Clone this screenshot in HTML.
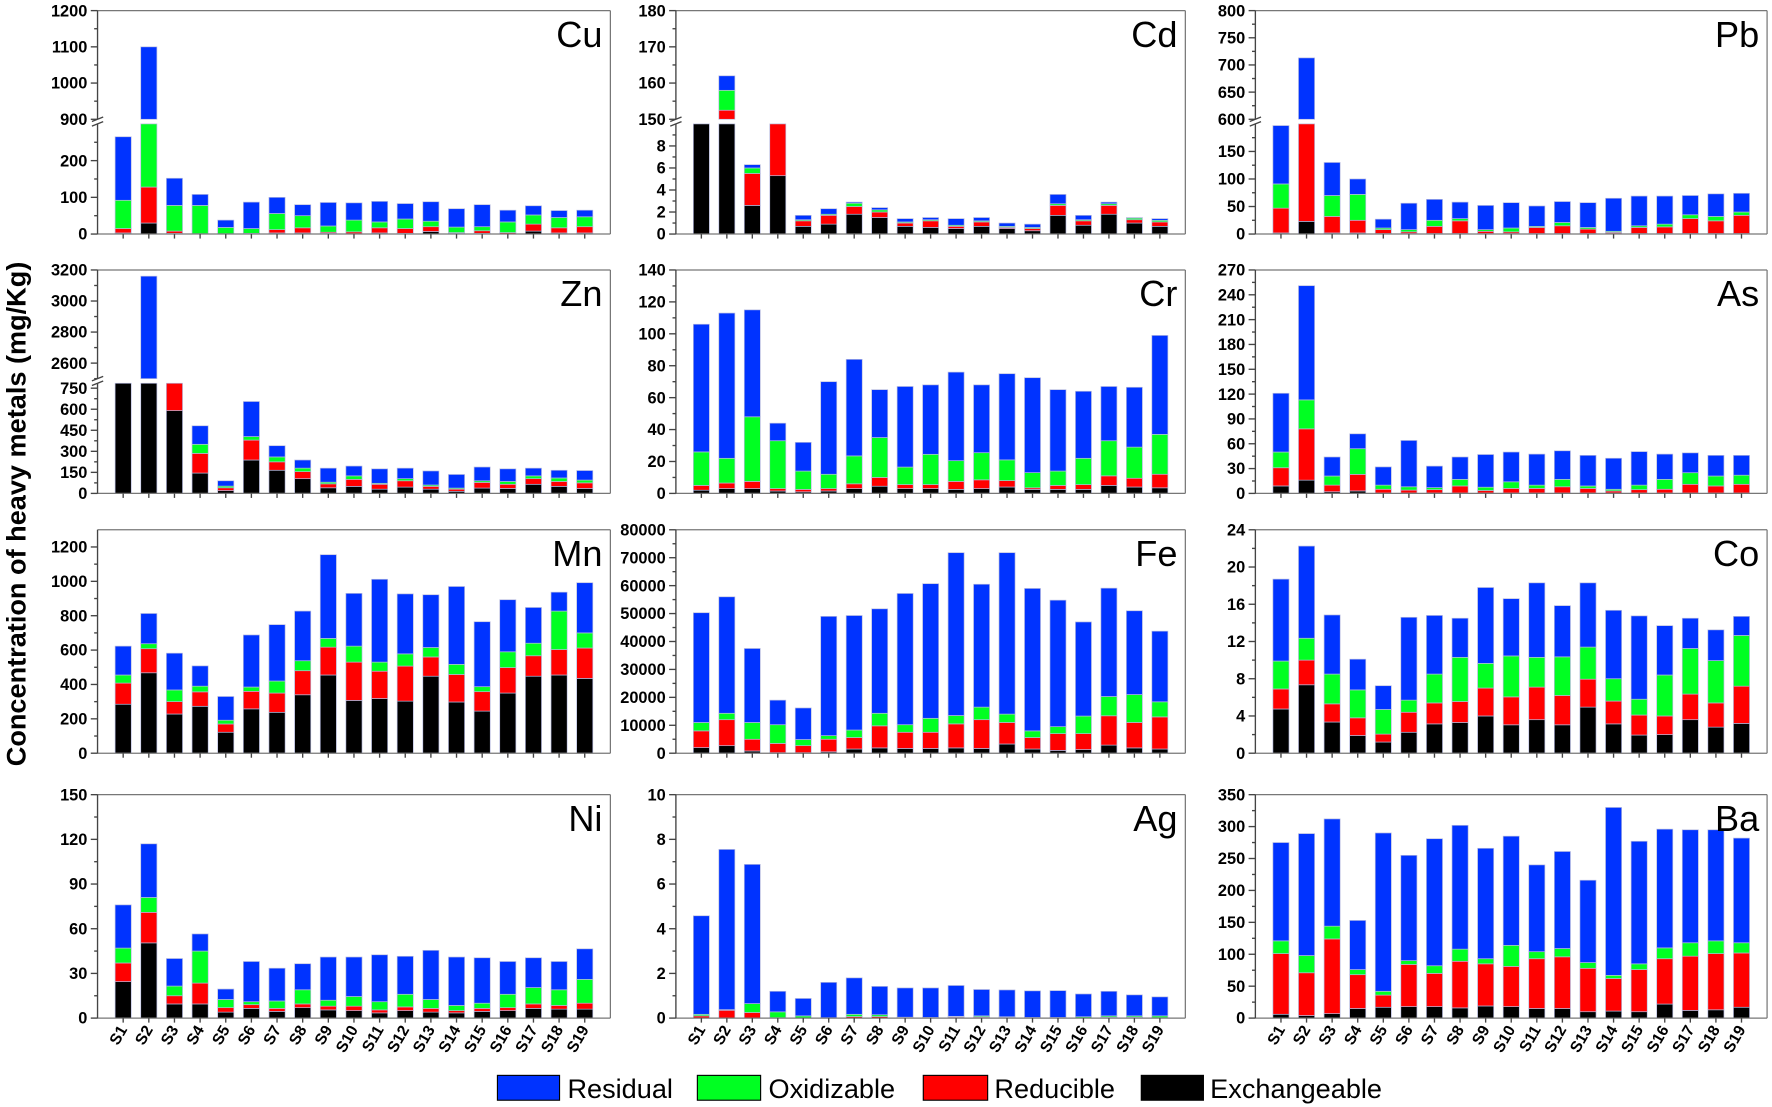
<!DOCTYPE html>
<html><head><meta charset="utf-8">
<style>
html,body{margin:0;padding:0;background:#fff;}
svg{display:block;font-family:"Liberation Sans",Arial,sans-serif;}
</style></head>
<body>
<svg id="chart" xmlns="http://www.w3.org/2000/svg" width="1772" height="1107" viewBox="0 0 1568 980">
<text transform="translate(22,455) rotate(-90)" text-anchor="middle" font-size="24" font-weight="bold">Concentration of heavy metals (mg/Kg)</text>
<g>
 <g><rect x="440" y="952" width="55" height="22" fill="#0033ff" stroke="#000" stroke-width="1"/><text x="502" y="972" font-size="24">Residual</text></g>
 <g><rect x="617" y="952" width="56" height="22" fill="#00ff22" stroke="#000" stroke-width="1"/><text x="680" y="972" font-size="24">Oxidizable</text></g>
 <g><rect x="817" y="952" width="57" height="22" fill="#ff0000" stroke="#000" stroke-width="1"/><text x="880" y="972" font-size="24">Reducible</text></g>
 <g><rect x="1010" y="952" width="55" height="22" fill="#000" stroke="#000" stroke-width="1"/><text x="1071" y="972" font-size="24">Exchangeable</text></g>
</g>
<g id="panels"></g>
</svg>
<script>
const categories=["S1","S2","S3","S4","S5","S6","S7","S8","S9","S10","S11","S12","S13","S14","S15","S16","S17","S18","S19"];

const cuExchangeable=[3,30,2,0,0,0,3,3,2,1,3,2,7,2,2,1,8,3,3];
const cuReducible=[12,98,6,1,1,2,9,14,3,5,14,13,13,2,7,3,19,14,17];
const cuOxidizable=[77,600,70,77,17,13,44,33,17,32,16,26,15,15,11,29,25,28,27];
const cuResidual=[173,372,74,30,20,72,44,30,64,47,56,42,53,50,60,32,25,19,18];

const cdExchangeable=[100,150,2.6,5.3,0.7,0.9,1.8,1.5,0.7,0.6,0.5,0.7,0.5,0.3,1.7,0.8,1.8,1.0,0.7];
const cdReducible=[0,2.5,2.9,94.7,0.5,0.8,0.7,0.5,0.3,0.6,0.2,0.4,0.1,0.2,0.9,0.4,0.8,0.3,0.4];
const cdOxidizable=[0,5.5,0.5,0,0.1,0.1,0.3,0.2,0.1,0.1,0.1,0.1,0.1,0.1,0.15,0.1,0.15,0.15,0.15];
const cdResidual=[0,4,0.3,0,0.4,0.5,0.1,0.2,0.3,0.2,0.6,0.3,0.3,0.3,0.85,0.4,0.15,0.05,0.15];

const pbExchangeable=[2,23,2,2,1,1,1,1,1,1,1,1,1,1,1,1,1,1,1];
const pbReducible=[45,500,30,23,7,3,13,23,4,3,11,14,8,2,11,12,27,23,33];
const pbOxidizable=[44,0,38,47,3,4,11,4,3,7,2,6,3,2,3,5,7,8,6];
const pbResidual=[106,190,60,28,16,48,38,30,44,46,37,38,45,60,54,51,35,41,34];

const znExchangeable=[1000,1000,590,145,20,238,165,105,40,50,30,45,30,15,38,35,65,50,35];
const znReducible=[0,0,300,140,20,142,60,50,28,50,35,45,20,15,40,30,40,35,40];
const znOxidizable=[0,0,0,65,12,25,35,25,12,25,7,15,10,8,12,20,20,25,20];
const znResidual=[0,2160,0,132,38,250,80,58,100,70,103,75,100,97,98,90,55,55,68];

const crExchangeable=[2,3,3,1.5,1,1.5,3,4.5,3,3,2.5,3,4,2.5,2.5,2.5,5,4,3.5];
const crReducible=[3,3.5,4.5,1.5,1.5,1.5,3,5.5,2.5,2.5,5,5.5,4,1,2.5,3,6,5.5,8.5];
const crOxidizable=[21,15.5,40.5,30,11.5,9,17.5,25,11,19,13,17,13,9.5,9,16.5,22,19.5,25];
const crResidual=[80,91,67,11,18,58,60.5,30,50.5,43.5,55.5,42.5,54,59.5,51,42,34,37.5,62];

const asExchangeable=[9,16,2,3,0.5,0.5,0.5,0.5,0.5,0.5,0.5,0.5,0.5,0.5,0.5,0.5,0.5,0.5,0.5];
const asReducible=[22,62,8,20,4.5,3.5,4,8.5,3,5.5,5.5,7.5,5.5,2.5,4,4.5,10.5,8.5,10.5];
const asOxidizable=[19,35,11,31,5,4,2.5,8,4,8,4,9,3,2,5.5,12,14,12,11];
const asResidual=[71,138,23,18,22,56,26,27,39.5,36,37.5,34.5,37,37.5,40.5,30.5,24,25,24];

const mnExchangeable=[285,468,228,273,122,258,238,340,455,307,318,303,448,298,245,350,448,455,435];
const mnReducible=[123,140,72,84,48,102,112,140,162,223,159,204,112,160,113,148,119,148,177];
const mnOxidizable=[47,29,68,33,22,25,70,58,51,93,53,71,55,59,29,92,73,224,88];
const mnResidual=[168,176,214,118,138,303,328,289,487,307,482,349,307,453,378,303,208,110,292];

const feExchangeable=[2000,2700,800,200,200,500,1500,1900,1700,1700,1900,1700,3300,1500,1000,1300,2900,1900,1500];
const feReducible=[6000,9300,4200,3300,2500,4500,4100,7900,5800,5800,8600,10300,7700,4100,6000,5700,10500,9100,11500];
const feOxidizable=[3000,2300,6000,6700,2200,1300,2700,4500,2700,5000,3000,4500,3000,2400,2500,6300,6900,10000,5400];
const feResidual=[39300,41700,26500,8800,11300,42700,41000,37400,47000,48200,58300,44000,57800,51000,45300,33700,38800,30000,25300];

const coExchangeable=[4.75,7.35,3.35,1.9,1.2,2.25,3.15,3.3,4.0,3.05,3.6,3.05,4.95,3.15,1.95,2.0,3.6,2.8,3.2];
const coReducible=[2.15,2.65,1.95,1.9,0.85,2.15,2.25,2.25,3.0,3.0,3.5,3.15,3.0,2.45,2.15,2.0,2.75,2.6,4.0];
const coOxidizable=[3.0,2.35,3.2,3.0,2.65,1.3,3.1,4.75,2.65,4.4,3.2,4.15,3.45,2.4,1.7,4.4,4.9,4.55,5.45];
const coResidual=[8.8,9.9,6.35,3.3,2.55,8.9,6.3,4.2,8.15,6.15,8.0,5.5,6.9,7.35,8.95,5.3,3.25,3.3,2.05];

const niExchangeable=[24.5,50.5,9.5,9.5,4,6.5,4.5,7,5.5,5,3.5,5,4,3.5,4.5,5,6.5,6,6];
const niReducible=[12.5,20.5,5.5,14,3,2.5,2,2.5,2.5,3,2,2.5,2.5,1.5,2,2,3,2.5,4];
const niOxidizable=[10,10,6.5,21.5,5.5,2,5,9.5,4,6.5,5.5,8.5,6,3.5,3.5,9,11,10.5,16];
const niResidual=[29,36,18.5,11.5,7,27,22,17.5,29,26.5,31.5,25.5,33,32.5,30.5,22,20,19,20.5];

const agExchangeable=[0,0,0,0,0,0,0,0,0,0,0,0,0,0,0,0,0,0,0];
const agReducible=[0.1,0.35,0.25,0.02,0.01,0.01,0.07,0.07,0.03,0.01,0.05,0.05,0.03,0.01,0.02,0.01,0.04,0.04,0.02];
const agOxidizable=[0.07,0.03,0.4,0.26,0.09,0.01,0.1,0.08,0.01,0.02,0.03,0.05,0.03,0.02,0.01,0.05,0.06,0.06,0.08];
const agResidual=[4.41,7.17,6.23,0.92,0.78,1.58,1.63,1.27,1.31,1.32,1.38,1.18,1.2,1.19,1.2,1.02,1.1,0.94,0.85];

const baExchangeable=[6,4,7,15,17,18,18,16,19,18,15,15,10,11,10,22,12,13,17];
const baReducible=[95,67,117,53,19,66,52,73,66,63,78,81,68,51,66,71,85,88,85];
const baOxidizable=[20,27,20,8,6,6,12,19,8,33,11,13,9,5,9,17,21,20,16];
const baResidual=[154,191,168,77,248,165,199,194,173,171,136,152,129,263,192,186,177,174,164];

const cuLowerTicks=[0,100,200], cuUpperTicks=[900,1000,1100,1200];
const cdLowerTicks=[0,2,4,6,8], cdUpperTicks=[150,160,170,180];
const pbLowerTicks=[0,50,100,150], pbUpperTicks=[600,650,700,750,800];
const znLowerTicks=[0,150,300,450,600,750], znUpperTicks=[2600,2800,3000,3200];
const crTicks=[0,20,40,60,80,100,120,140];
const asTicks=[0,30,60,90,120,150,180,210,240,270];
const mnTicks=[0,200,400,600,800,1000,1200];
const feTicks=[0,10000,20000,30000,40000,50000,60000,70000,80000];
const coTicks=[0,4,8,12,16,20,24];
const niTicks=[0,30,60,90,120,150];
const agTicks=[0,2,4,6,8,10];
const baTicks=[0,50,100,150,200,250,300,350];

const colX=[[86,540],[598,1049],[1111,1564]];
const rowTop=[9.4,239,469,703.5];
const PH=197.8;
const COLORS=["#000000","#ff0000","#00ff22","#0033ff"];
const NS="http://www.w3.org/2000/svg";

const panels=[
 {name:"Cu",col:0,row:0,series:[cuExchangeable,cuReducible,cuOxidizable,cuResidual],broken:{lower:[0,300],upper:[900,1200],lt:cuLowerTicks,ut:cuUpperTicks}},
 {name:"Cd",col:1,row:0,series:[cdExchangeable,cdReducible,cdOxidizable,cdResidual],broken:{lower:[0,10],upper:[150,180],lt:cdLowerTicks,ut:cdUpperTicks}},
 {name:"Pb",col:2,row:0,series:[pbExchangeable,pbReducible,pbOxidizable,pbResidual],broken:{lower:[0,200],upper:[600,800],lt:pbLowerTicks,ut:pbUpperTicks}},
 {name:"Zn",col:0,row:1,series:[znExchangeable,znReducible,znOxidizable,znResidual],broken:{lower:[0,785],upper:[2500,3200],lt:znLowerTicks,ut:znUpperTicks}},
 {name:"Cr",col:1,row:1,series:[crExchangeable,crReducible,crOxidizable,crResidual],max:140,ticks:crTicks},
 {name:"As",col:2,row:1,series:[asExchangeable,asReducible,asOxidizable,asResidual],max:270,ticks:asTicks},
 {name:"Mn",col:0,row:2,series:[mnExchangeable,mnReducible,mnOxidizable,mnResidual],max:1300,ticks:mnTicks},
 {name:"Fe",col:1,row:2,series:[feExchangeable,feReducible,feOxidizable,feResidual],max:80000,ticks:feTicks},
 {name:"Co",col:2,row:2,series:[coExchangeable,coReducible,coOxidizable,coResidual],max:24,ticks:coTicks},
 {name:"Ni",col:0,row:3,series:[niExchangeable,niReducible,niOxidizable,niResidual],max:150,ticks:niTicks},
 {name:"Ag",col:1,row:3,series:[agExchangeable,agReducible,agOxidizable,agResidual],max:10,ticks:agTicks},
 {name:"Ba",col:2,row:3,series:[baExchangeable,baReducible,baOxidizable,baResidual],max:350,ticks:baTicks}
];
const fracNames=["exchangeable","reducible","oxidizable","residual"];

function mk(tag,attrs,parent){const e=document.createElementNS(NS,tag);for(const k in attrs)e.setAttribute(k,attrs[k]);if(parent)parent.appendChild(e);return e;}

const root=document.getElementById("panels");
panels.forEach(p=>{
 const x0=colX[p.col][0],x1=colX[p.col][1],top=rowTop[p.row],zero=top+PH;
 const w=(x1-x0)/20, bw=w*0.63;
 const xc=i=>x0+(i+1)*w;
 const g=mk("g",{},root);
 
 
 const upBot=top+96.2, lowTop=top+100.3;
 let segs;
 if(p.broken){
  const L=p.broken.lower,U=p.broken.upper;
  const yl=v=>zero-(v-L[0])/(L[1]-L[0])*(zero-lowTop);
  const yu=v=>upBot-(v-U[0])/(U[1]-U[0])*(upBot-top);
  segs=(a,b)=>{const r=[];if(a<L[1]){r.push([yl(a),yl(Math.min(b,L[1]))]);}if(b>U[0]){r.push([yu(Math.max(a,U[0])),yu(Math.min(b,U[1]))]);}return r;};
  p.yl=yl;p.yu=yu;
 } else {
  const y=v=>zero-v/p.max*PH;
  segs=(a,b)=>[[y(a),y(b)]];
  p.y=y;
 }
 categories.forEach((c,i)=>{
  let cum=0;
  p.series.forEach((arr,s)=>{
   const v=arr[i]; if(!(v>0)){return;}
   const a=cum,b=cum+v; cum=b;
   segs(a,b).forEach(([ya,yb])=>{
    if(ya-yb<=0.01)return;
    const r=mk("rect",{x:xc(i)-bw/2,y:yb,width:bw,height:ya-yb,fill:COLORS[s],stroke:"#b8bce0","stroke-width":0.6},g);
    
    
   });
  });
 });
 const fr=mk("g",{stroke:"#777","stroke-width":1.1,fill:"none"},g);
 
 
 mk("line",{x1:x0,y1:top,x2:x1,y2:top},fr);
 mk("line",{x1:x1,y1:top,x2:x1,y2:zero},fr);
 mk("line",{x1:x0,y1:zero,x2:x1,y2:zero},fr);
 const ax=mk("g",{stroke:"#444","stroke-width":1.2,fill:"none"},g);
 
 
 const labels=mk("g",{"font-size":14.5,"font-weight":"bold","text-anchor":"end"},g);
 
 
 function tick(yv,txt,major){
  mk("line",{x1:x0-(major?6:3),y1:yv,x2:x0,y2:yv},ax);
  if(txt!==null){const t=mk("text",{x:x0-9,y:yv+5,stroke:"none",fill:"#000"},labels);t.textContent=txt;}
 }
 if(p.broken){
  mk("line",{x1:x0,y1:top,x2:x0,y2:upBot},ax);
  mk("line",{x1:x0,y1:lowTop,x2:x0,y2:zero},ax);
  const lt=p.broken.lt,ut=p.broken.ut,L=p.broken.lower,U=p.broken.upper;
  lt.forEach(v=>tick(p.yl(v),String(v),true));
  const ls=lt[1]-lt[0];
  for(let v=lt[0]+ls/2;v<L[1];v+=ls)tick(p.yl(v),null,false);
  ut.forEach(v=>tick(p.yu(v),String(v),true));
  const us=ut[1]-ut[0];
  for(let v=ut[0]-us/2;v<U[1];v+=us){if(v>=U[0])tick(p.yu(v),null,false);}
  mk("line",{x1:x0-5,y1:upBot+2,x2:x0+5,y2:upBot-2},ax);
  mk("line",{x1:x0-5,y1:lowTop+2,x2:x0+5,y2:lowTop-2},ax);
 } else {
  mk("line",{x1:x0,y1:top,x2:x0,y2:zero},ax);
  const t=p.ticks;
  t.forEach(v=>tick(p.y(v),String(v),true));
  const st=t[1]-t[0];
  for(let v=st/2;v<p.max;v+=st)tick(p.y(v),null,false);
 }
 categories.forEach((c,i)=>mk("line",{x1:xc(i),y1:zero,x2:xc(i),y2:zero+4},ax));
 if(p.row===3){
  const xl=mk("g",{"font-size":14,"font-weight":"bold","text-anchor":"end"},g);
  
  
  categories.forEach((c,i)=>{
   const t=mk("text",{transform:`translate(${xc(i)+4},${zero+10}) rotate(-60)`},xl);
   t.textContent=c;
  });
 }
 const nm=mk("text",{x:x1-7,y:top+32,"font-size":32,"text-anchor":"end"},g);
 nm.textContent=p.name;
 
 
});
</script>
</body></html>
